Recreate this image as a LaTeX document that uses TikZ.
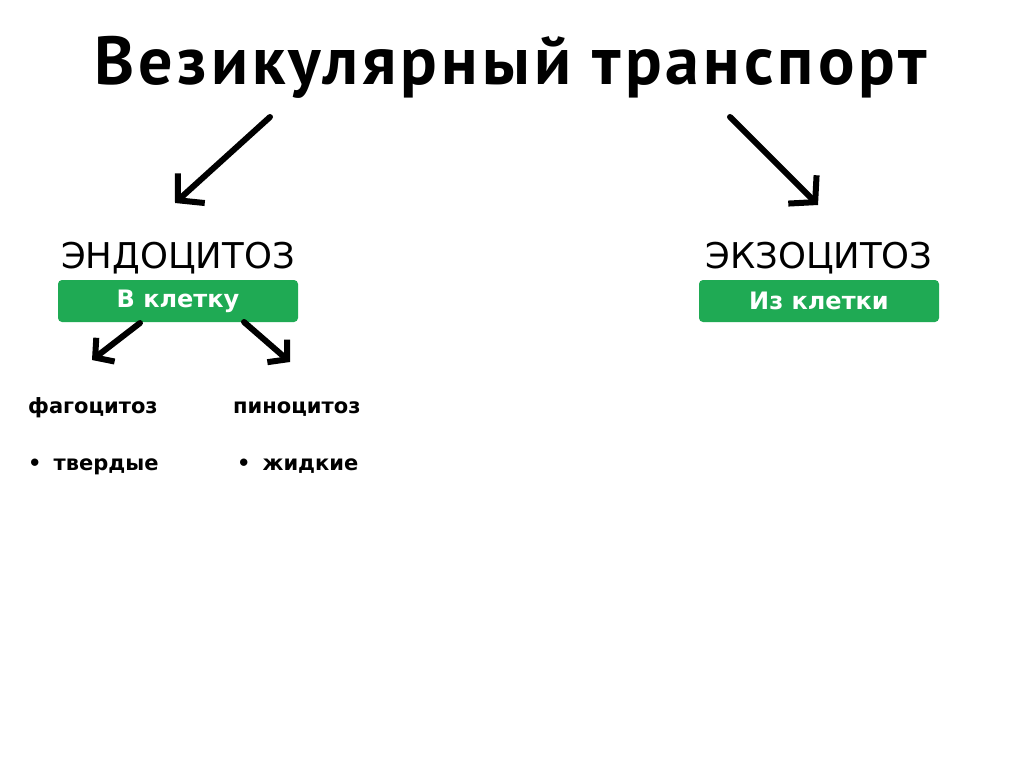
\documentclass[tikz,border=0pt]{standalone}
\usepackage{fontspec}
\setmainfont{DejaVu Sans}
\newfontfamily\headfont[LetterSpace=6]{PT Sans}
\usetikzlibrary{arrows.meta,positioning}
\definecolor{boxgreen}{RGB}{31,170,84}

\begin{document}
\begin{tikzpicture}[
      x=1pt,y=-1pt,
      head/.style={font=\headfont\fontsize{68}{80}\selectfont\bfseries,inner sep=0pt,anchor=base},
      kind/.style={font=\fontsize{35.5}{40}\selectfont,inner sep=0pt,anchor=base},
      tag/.style={rectangle,rounded corners=4pt,fill=boxgreen,minimum width=240pt,
                  minimum height=42pt,text=white,inner sep=0pt,
                  font=\fontsize{24}{28}\selectfont\bfseries},
      sub/.style={font=\fontsize{21}{26}\selectfont\bfseries,inner sep=0pt,anchor=base west},
      arr/.style={-{Straight Barb[length=18pt,width=40pt]},line width=6pt,line cap=round},
      tip/.style={-{Straight Barb[length=13pt,width=30pt]},line width=6pt,line cap=round}
    ]

    \fill[white] (0,0) rectangle (1024,767);
    \useasboundingbox (0,0) rectangle (1024,767);

    \node[head] (title) at (511,85) {Везикулярный транспорт};

    \node[kind] (endo) at (178,268) {ЭНДОЦИТОЗ};
    \node[kind] (exo)  at (819,268) {ЭКЗОЦИТОЗ};

    \node[tag] (in)  at (178,301) {В клетку};
    \node[tag] (out) at (819,301) {Из клетки};

    \node[sub] (phago) at (28,413)  {фагоцитоз};
    \node[sub] (pino)  at (233,413) {пиноцитоз};
    \node[sub] (solid) at (28,470)  {•\hspace{12pt}твердые};
    \node[sub] (fluid) at (237,470) {•\hspace{12pt}жидкие};

    % arrow ends
    \coordinate (titleL) at (270,117);
    \coordinate (titleR) at (730,117);
    \coordinate (endoIn) at (175,203);
    \coordinate (exoIn)  at (818,205);
    \coordinate (inL)    at (140,323);
    \coordinate (inR)    at (244,322);
    \coordinate (phagoIn) at (92,360);
    \coordinate (pinoIn)  at (290,362);

    \draw[arr] (titleL) -- (endoIn);
    \draw[arr] (titleR) -- (exoIn);
    \draw[tip] (inL) -- (phagoIn);
    \draw[tip] (inR) -- (pinoIn);

  \end{tikzpicture}
\end{document}
